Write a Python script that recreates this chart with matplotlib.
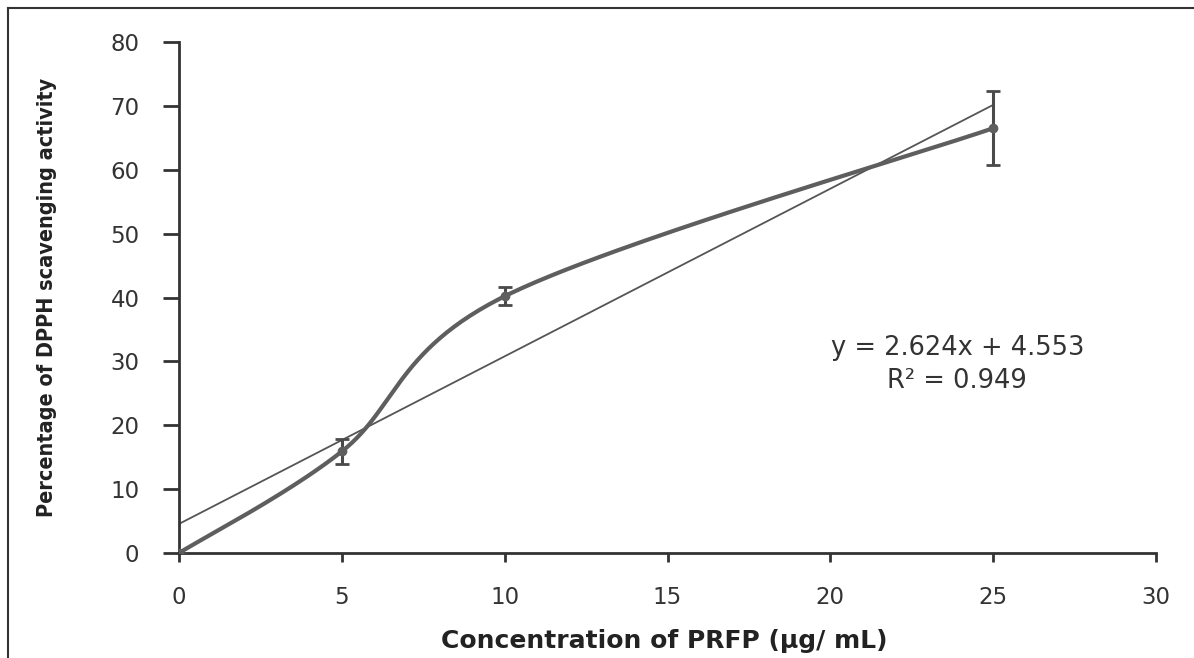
import numpy as np
import matplotlib
matplotlib.use("Agg")
import matplotlib.pyplot as plt
from matplotlib.lines import Line2D

# data
conc = [0, 5, 10, 25]
activity = [0, 15.9, 40.2, 66.5]
err = [0, 1.95, 1.4, 5.8]
slope, intercept, r2 = 2.624, 4.553, 0.949
xticks = [0, 5, 10, 15, 20, 25, 30]
yticks = [0, 10, 20, 30, 40, 50, 60, 70, 80]


def smooth_curve(ax, xs, ys, n=60):
    # Excel-like smoothed line: Catmull-Rom done in display space
    pts = ax.transData.transform(np.column_stack([xs, ys]))
    p = np.vstack([pts[0], pts, pts[-1]])
    out = []
    for i in range(1, len(p) - 2):
        p0, p1, p2, p3 = p[i - 1], p[i], p[i + 1], p[i + 2]
        c1 = p1 + (p2 - p0) / 6
        c2 = p2 - (p3 - p1) / 6
        t = np.linspace(0, 1, n)[:, None]
        seg = (1 - t) ** 3 * p1 + 3 * (1 - t) ** 2 * t * c1 + 3 * (1 - t) * t ** 2 * c2 + t ** 3 * p2
        out.append(seg)
    out = np.vstack(out)
    return ax.transData.inverted().transform(out)


fig = plt.figure(figsize=(11.94, 6.58), dpi=100)
ax = fig.add_axes([179 / 1194, 1 - 553 / 658, (1156 - 179) / 1194, (553 - 42) / 658])
ax.set_xlim(0, 30)
ax.set_ylim(0, 80)

col = "#4a4a4a"
curve = smooth_curve(ax, conc, activity)
ax.plot(curve[:, 0], curve[:, 1], color="#5e5e5e", lw=3, solid_capstyle="round", zorder=3)
ax.errorbar(conc, activity, yerr=err, fmt="o", ms=6, color="#5e5e5e", ecolor=col,
            elinewidth=2.2, capsize=5, capthick=2, zorder=4)

fx = np.array([0, 25])
ax.plot(fx, slope * fx + intercept, color="#555555", lw=1.3, zorder=2)

ax.text(23.9, 29.5, "y = %.3fx + %.3f\nR² = %.3f" % (slope, intercept, r2),
        ha="center", va="center", fontsize=18.5, color="#333333", linespacing=1.35)

for s in ["top", "right"]:
    ax.spines[s].set_visible(False)
for s in ["left", "bottom"]:
    ax.spines[s].set_color("#333333")
    ax.spines[s].set_linewidth(2)
ax.set_xticks(xticks)
ax.set_yticks(yticks)
ax.tick_params(direction="out", width=2, color="#333333", labelsize=16.5, labelcolor="#333333")
ax.tick_params(axis="y", length=11.5, pad=17)
ax.tick_params(axis="x", length=6.5, pad=17)
ax.set_xlabel("Concentration of PRFP (µg/ mL)", fontsize=18, fontweight="bold",
              color="#222222")
ax.set_ylabel("Percentage of DPPH scavenging activity", fontsize=15.5, fontweight="bold",
              fontstretch="condensed", color="#222222")
ax.xaxis.set_label_coords(0.497, -0.148)
ax.yaxis.set_label_coords(-0.125, 0.5)

# frame lines on top and left of the figure
fig.add_artist(Line2D([8 / 1194, 8 / 1194], [0, 1 - 8 / 658], transform=fig.transFigure, color="#333333", lw=1.5))
fig.add_artist(Line2D([8 / 1194, 1], [1 - 8 / 658, 1 - 8 / 658], transform=fig.transFigure, color="#333333", lw=1.5))

fig.savefig("out.png", dpi=100)
